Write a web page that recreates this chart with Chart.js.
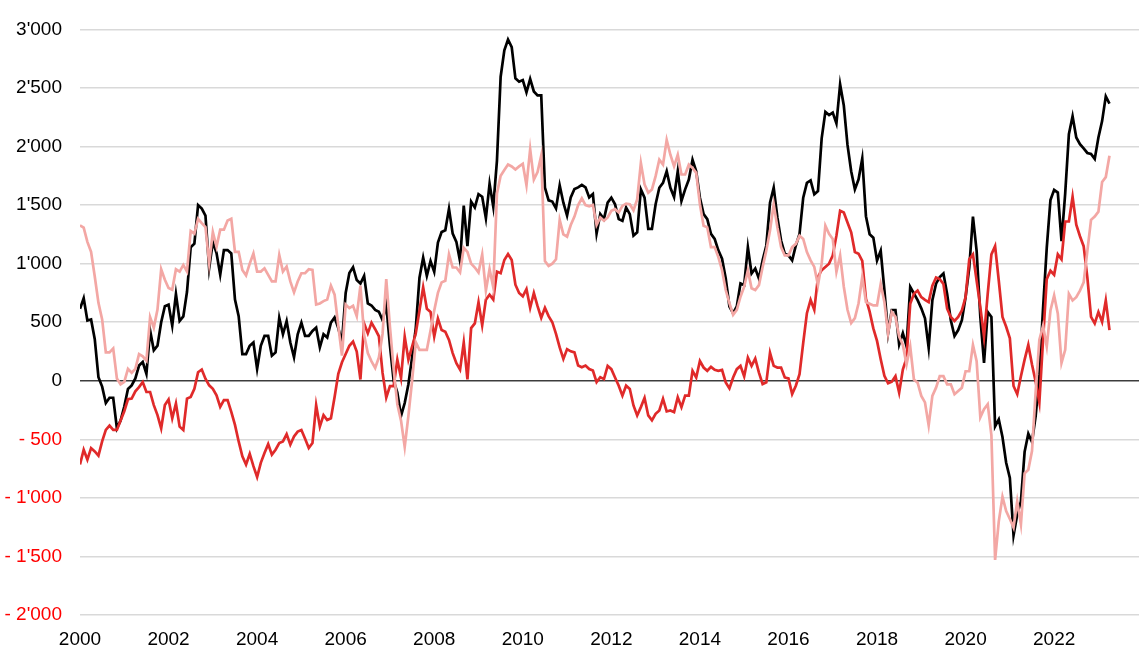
<!DOCTYPE html>
<html>
<head>
<meta charset="utf-8">
<script src="https://cdn.jsdelivr.net/npm/chart.js@4.4.1/dist/chart.umd.min.js"></script>
<style>
  html, body { margin: 0; padding: 0; background: #fff; }
  #wrap { position: relative; width: 1139px; height: 653px; }
</style>
</head>
<body>
<div id="wrap"><canvas id="chart"></canvas></div>
<script>
// monthly values, Jan 2000 .. Apr 2023
const YEAR_LABELS = ['2000', '2002', '2004', '2006', '2008', '2010', '2012', '2014', '2016', '2018', '2020', '2022'];

const black = [
  614, 705, 515, 524, 355, 30, -50, -190, -145, -145,
  -405, -340, -220, -70, -40, 20, 130, 160, 60, 430,
  260, 300, 500, 637, 650, 470, 740, 510, 550, 760,
  1140, 1170, 1500, 1470, 1410, 960, 1186, 1090, 905, 1116,
  1116, 1087, 693, 552, 228, 228, 299, 327, 101, 299,
  383, 383, 214, 242, 538, 397, 510, 327, 200, 397,
  496, 383, 383, 425, 454, 285, 397, 369, 496, 540,
  450, 330, 750, 920, 970, 860, 830, 896, 660, 643,
  605, 590, 517, 650, 300, 0, -100, -300, -190, -30,
  200, 450, 880, 1051, 896, 1023, 930, 1180, 1270, 1285,
  1468, 1256, 1186, 1020, 1496, 1150, 1530, 1480, 1593, 1571,
  1388, 1683, 1486, 1880, 2596, 2821, 2914, 2849, 2582, 2554,
  2568, 2462, 2577, 2470, 2436, 2436, 1650, 1540, 1530, 1472,
  1669, 1520, 1411, 1566, 1637, 1651, 1673, 1651, 1566, 1594,
  1256, 1423, 1380, 1521, 1563, 1507, 1380, 1366, 1479, 1423,
  1239, 1268, 1634, 1563, 1296, 1296, 1507, 1648, 1690, 1789,
  1648, 1569, 1789, 1535, 1634, 1718, 1887, 1789, 1563, 1423,
  1380, 1254, 1211, 1113, 1042, 873, 634, 577, 634, 831,
  817, 1141, 916, 958, 873, 1028, 1155, 1521, 1648, 1394,
  1197, 1085, 1070, 1028, 1155, 1254, 1563, 1690, 1710, 1592,
  1620, 2070, 2296, 2268, 2290, 2197, 2530, 2350, 2014, 1789,
  1634, 1720, 1897, 1405, 1250, 1222, 1026, 1110, 773, 407,
  604, 604, 309, 407, 295, 801, 745, 688, 618, 534,
  281, 688, 829, 885, 916, 742, 517, 382, 433, 517,
  714, 967, 1402, 1107, 545, 152, 587, 545, -390, -330,
  -480, -700, -830, -1320, -1141, -1029, -607, -452, -523, -300,
  50, 620, 1135, 1543, 1630, 1607, 1191, 1600, 2105, 2259,
  2077, 2020, 1984, 1945, 1936, 1894, 2077, 2217, 2428, 2366
];

const red = [
  -715, -589, -673, -575, -603, -639, -518, -420, -383, -420,
  -420, -340, -260, -158, -152, -90, -54, -11, -96, -96,
  -208, -293, -406, -208, -160, -321, -194, -392, -420, -152,
  -138, -68, 73, 96, 17, -39, -68, -124, -223, -166,
  -166, -265, -377, -518, -645, -715, -625, -729, -822, -701,
  -617, -541, -631, -589, -532, -518, -456, -546, -476, -434,
  -420, -496, -575, -532, -208, -392, -293, -335, -321, -138,
  59, 158, 228, 299, 335, 250, 11, 489, 405, 496,
  440, 380, 67, -143, -45, -45, 180, 25, 377, 180,
  292, 405, 600, 798, 615, 587, 377, 531, 433, 419,
  348, 236, 150, 95, 326, 11, 450, 490, 670, 473,
  693, 735, 693, 932, 918, 1031, 1082, 1031, 820, 749,
  721, 783, 623, 749, 637, 538, 623, 552, 500, 400,
  285, 186, 270, 251, 242, 130, 115, 130, 100, 87,
  -11, 31, 14, 127, 99, 28, -42, -127, -42, -70,
  -211, -296, -225, -146, -296, -338, -282, -254, -155, -262,
  -254, -268, -141, -225, -127, -127, 85, 28, 169, 113,
  85, 118, 93, 85, 93, -14, -65, 28, 99, 127,
  37, 197, 127, 189, 70, -28, -14, 239, 127, 113,
  113, 28, 20, -113, -42, 56, 324, 577, 690, 606,
  887, 944, 972, 1000, 1070, 1239, 1451, 1437, 1352, 1268,
  1099, 1085, 1023, 700, 590, 447, 340, 183, 42, -22,
  -8, 39, -101, 96, 194, 657, 742, 770, 714, 690,
  672, 812, 882, 868, 826, 615, 545, 511, 545, 601,
  714, 1037, 1079, 854, 629, 377, 742, 1079, 1149, 854,
  545, 461, 362, -45, -115, 39, 180, 306, 138, -8,
  -185, 350, 868, 939, 905, 1079, 1037, 1360, 1360, 1571,
  1332, 1234, 1149, 882, 545, 489, 587, 503, 686, 433
];

const pink = [
  1327, 1307, 1186, 1101, 890, 665, 524, 242, 242, 276,
  20, -30, -10, 101, 68, 101, 228, 208, 172, 544,
  454, 608, 952, 862, 792, 777, 952, 932, 989, 932,
  1279, 1256, 1383, 1346, 1313, 1003, 1270, 1144, 1290, 1290,
  1369, 1383, 1101, 1101, 946, 900, 1000, 1087, 932, 932,
  960, 904, 848, 848, 1073, 932, 975, 848, 755, 848,
  918, 918, 952, 946, 651, 660, 680, 693, 811, 735,
  468, 214, 651, 620, 640, 552, 812, 390, 236, 166,
  110, 200, 400, 868, 461, 100, -200, -340, -565, -300,
  0, 330, 264, 264, 264, 430, 600, 750, 840, 854,
  1079, 967, 967, 925, 1135, 1100, 1000, 967, 925, 1079,
  770, 953, 798, 1600, 1750, 1800, 1846, 1830, 1804, 1830,
  1852, 1669, 1978, 1717, 1781, 1922, 1023, 980, 1000, 1037,
  1374, 1250, 1230, 1330, 1402, 1500, 1557, 1500, 1490, 1500,
  1330, 1394, 1366, 1394, 1451, 1465, 1437, 1493, 1513, 1507,
  1456, 1549, 1859, 1676, 1606, 1634, 1747, 1887, 1845, 2056,
  1930, 1831, 1930, 1761, 1761, 1845, 1817, 1775, 1507, 1324,
  1310, 1141, 1141, 1056, 944, 775, 662, 563, 606, 718,
  803, 944, 789, 775, 817, 972, 1113, 1282, 1507, 1310,
  1141, 1070, 1070, 1141, 1169, 1239, 1211, 1099, 1028, 972,
  817, 1000, 1324, 1254, 1211, 930, 1070, 803, 606, 493,
  535, 662, 887, 672, 658, 643, 643, 826, 672, 405,
  587, 545, 377, 306, 138, 292, 11, -17, -129, -185,
  -382, -129, -59, 39, 39, -31, -31, -115, -87, -59,
  81, 81, 306, 166, -312, -242, -200, -466, -1530, -1200,
  -990, -1113, -1180, -1253, -1029, -1225, -790, -760, -600, -90,
  350, 470, 292, 600, 728, 573, 152, 264, 742, 686,
  714, 770, 840, 1107, 1374, 1402, 1444, 1697, 1739, 1922
];

const FONT = { family: "'Liberation Sans', Arial, sans-serif", size: 19 };

// 1'000 style, negatives as "- 1'000"
function fmt(v) {
  const s = String(Math.abs(v)).replace(/\B(?=(\d{3})+(?!\d))/g, "'");
  return v < 0 ? '- ' + s : s;
}

const toPoints = (arr) => arr.map((v, i) => ({ x: i, y: v }));

new Chart(document.getElementById('chart'), {
  type: 'line',
  data: {
    datasets: [
      { data: toPoints(pink), borderColor: '#f3a7a4', order: 1 },
      { data: toPoints(red), borderColor: '#e02a2a', order: 2 },
      { data: toPoints(black), borderColor: '#000000', order: 3 },
    ],
  },
  options: {
    responsive: true, maintainAspectRatio: false, animation: false,
    layout: { padding: { top: 21, right: 0, left: 0, bottom: 0 } },
    plugins: { legend: { display: false }, tooltip: { enabled: false } },
    elements: { point: { radius: 0 }, line: { borderWidth: 2.7, tension: 0 } },
    scales: {
      x: {
        type: 'linear', min: 0, max: 287,
        grid: { display: false, drawTicks: false },
        border: { display: false },
        afterBuildTicks: (s) => { s.ticks = YEAR_LABELS.map((_, i) => ({ value: i * 24 })); },
        afterFit: (s) => { s.height = 38; },
        ticks: {
          autoSkip: false, maxRotation: 0, padding: 13, color: '#000', font: FONT,
          callback: (v, i) => YEAR_LABELS[i],
        },
      },
      y: {
        min: -2000, max: 3000,
        border: { display: false },
        afterFit: (s) => { s.width = 80; },
        grid: {
          drawTicks: false,
          color: (c) => (c.tick && c.tick.value === 0 ? '#3c3c3c' : '#d9d9d9'),
          lineWidth: 1.5,
        },
        ticks: {
          stepSize: 500, padding: 18, font: FONT,
          color: (c) => (c.tick.value < 0 ? '#ff0000' : '#000000'),
          callback: (v) => fmt(v),
        },
      },
    },
  },
});
</script>
</body>
</html>
